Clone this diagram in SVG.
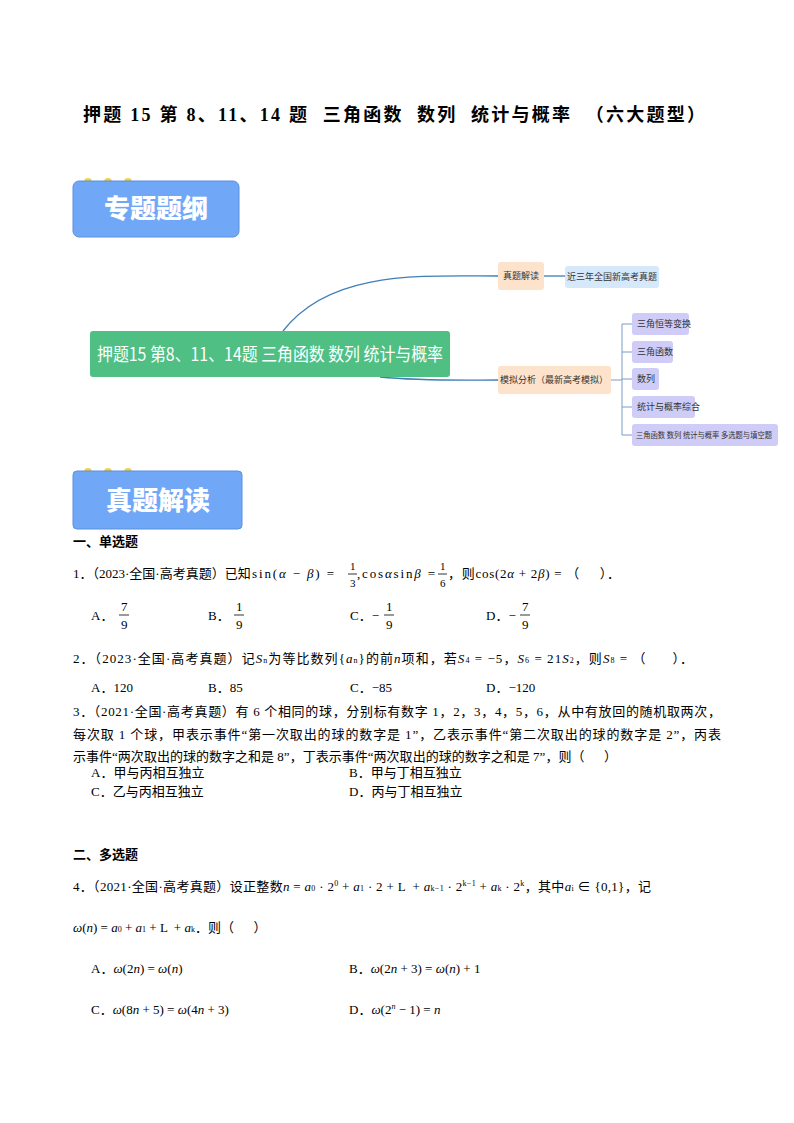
<svg xmlns="http://www.w3.org/2000/svg" width="794" height="1123" viewBox="0 0 794 1123">
<style>
.t{font-family:"Liberation Serif","Noto Sans CJK SC",serif;font-size:13px;fill:#000;white-space:pre}
.b{font-weight:bold}
.m{font-family:"Liberation Serif",serif;font-style:italic;font-size:13px}
.n{font-family:"Noto Sans CJK SC",sans-serif;font-size:9px;fill:#333}
.ban{fill:#70a7f6;stroke:#5a8fe0;stroke-width:1}
.bt{font-family:"Noto Sans CJK SC",sans-serif;font-weight:900;font-size:26px;fill:#fff}
.dot{fill:#f8d23a}
.fl{stroke:#000;stroke-width:0.8}
.ln{fill:none;stroke:#3d7fb8;stroke-width:1.3}
.br{fill:none;stroke:#7a9cc4;stroke-width:1}
.s{font-size:8px}
</style>
<rect width="794" height="1123" fill="#fff"/>
<text x="83" y="121" class="t b" style="font-size:18px" textLength="622" lengthAdjust="spacing">押题 15 第 8、11、14 题  三角函数  数列  统计与概率  （六大题型）</text>

<g id="banner1"><circle class="dot" cx="88" cy="182" r="4"/><circle class="dot" cx="108" cy="182" r="4"/><circle class="dot" cx="128" cy="182" r="4"/>
<rect class="ban" x="73" y="181" width="166" height="56" rx="6"/><text class="bt" x="156" y="218" text-anchor="middle">专题题纲</text></g>

<g id="connectors">
<path class="ln" d="M283 331 C330 270 420 276 498 276"/>
<path class="ln" d="M380 377 C420 381 460 380 498 380"/>
<path class="ln" d="M544 276 H565"/>
<path class="br" d="M611 380 H622 M622 324 V435 M622 324 H632 M622 352 H632 M622 379 H632 M622 407 H632 M622 435 H632"/>
</g>
<g id="central"><rect x="90" y="331" width="360" height="46" rx="3" fill="#4fbf84"/><text x="97" y="361" textLength="346" lengthAdjust="spacingAndGlyphs" style="font-family:'Noto Sans CJK SC',sans-serif;font-size:18px;fill:#fff">押题15 第8、11、14题 三角函数 数列 统计与概率</text></g>
<g id="n1"><rect x="498" y="262" width="46" height="28" rx="3" fill="#fde3cc"/><text class="n" x="521" y="279" text-anchor="middle">真题解读</text></g>
<g id="n2"><rect x="565" y="266" width="94" height="22" rx="3" fill="#d6e9fb"/><text class="n" x="612" y="280" text-anchor="middle">近三年全国新高考真题</text></g>
<g id="n3"><rect x="498" y="366" width="113" height="28" rx="3" fill="#fde3cc"/><text class="n" x="554" y="383" text-anchor="middle">模拟分析（最新高考模拟）</text></g>
<g id="n4"><rect x="632" y="313" width="57" height="22" rx="3" fill="#cfcdf7"/><text class="n" x="637" y="327">三角恒等变换</text></g>
<g id="n5"><rect x="632" y="341" width="41" height="22" rx="3" fill="#cfcdf7"/><text class="n" x="637" y="355">三角函数</text></g>
<g id="n6"><rect x="632" y="368" width="27" height="22" rx="3" fill="#cfcdf7"/><text class="n" x="637" y="382">数列</text></g>
<g id="n7"><rect x="632" y="396" width="63" height="22" rx="3" fill="#cfcdf7"/><text class="n" x="637" y="410">统计与概率综合</text></g>
<g id="n8"><rect x="632" y="424" width="146" height="22" rx="3" fill="#cfcdf7"/><text class="n" x="636" y="438" style="font-size:8px" textLength="136" lengthAdjust="spacingAndGlyphs">三角函数 数列 统计与概率 多选题与填空题</text></g>

<g id="banner2"><circle class="dot" cx="88" cy="472" r="4"/><circle class="dot" cx="108" cy="472" r="4"/><circle class="dot" cx="128" cy="472" r="4"/>
<rect class="ban" x="73" y="471" width="169" height="58" rx="4"/><text class="bt" x="158" y="510" text-anchor="middle">真题解读</text></g>

<text class="t b" x="73" y="546">一、单选题</text>
<text class="t" x="73" y="578">1．（2023·全国·高考真题）已知</text>
<text class="t" x="252" y="578" textLength="82" lengthAdjust="spacing">sin(<tspan class="m">α</tspan> − <tspan class="m">β</tspan>) =</text>
<text class="t" x="350" y="570" style="font-size:11px">1</text><line class="fl" x1="348" y1="574" x2="357" y2="574"/><text class="t" x="350" y="587" style="font-size:11px">3</text>
<text class="t" x="357" y="578" textLength="78" lengthAdjust="spacing">,cos<tspan class="m">α</tspan>sin<tspan class="m">β</tspan> =</text>
<text class="t" x="440" y="570" style="font-size:11px">1</text><line class="fl" x1="438" y1="574" x2="447" y2="574"/><text class="t" x="440" y="587" style="font-size:11px">6</text>
<text class="t" x="448" y="578" textLength="172" lengthAdjust="spacing">，则cos(2<tspan class="m">α</tspan> + 2<tspan class="m">β</tspan>) = （     ）．</text>
<text class="t" x="91" y="620">A．</text><text class="t" x="121" y="611">7</text><line class="fl" x1="119" y1="615" x2="129" y2="615"/><text class="t" x="121" y="629">9</text>
<text class="t" x="208" y="620">B．</text><text class="t" x="236" y="611">1</text><line class="fl" x1="234" y1="615" x2="244" y2="615"/><text class="t" x="236" y="629">9</text>
<text class="t" x="350" y="620">C．−</text><text class="t" x="386" y="611">1</text><line class="fl" x1="384" y1="615" x2="394" y2="615"/><text class="t" x="386" y="629">9</text>
<text class="t" x="486" y="620">D．−</text><text class="t" x="522" y="611">7</text><line class="fl" x1="520" y1="615" x2="530" y2="615"/><text class="t" x="522" y="629">9</text>
<text class="t" x="73" y="663" textLength="620" lengthAdjust="spacing">2．（2023·全国·高考真题）记<tspan class="m">S</tspan><tspan class="s">n</tspan>为等比数列{<tspan class="m">a</tspan><tspan class="s">n</tspan>}的前<tspan class="m">n</tspan>项和，若<tspan class="m">S</tspan><tspan class="s">4</tspan> = −5，<tspan class="m">S</tspan><tspan class="s">6</tspan> = 21<tspan class="m">S</tspan><tspan class="s">2</tspan>，则<tspan class="m">S</tspan><tspan class="s">8</tspan> = （      ）．</text>
<text class="t" x="91" y="692">A．120</text><text class="t" x="208" y="692">B．85</text><text class="t" x="350" y="692">C．−85</text><text class="t" x="486" y="692">D．−120</text>
<text class="t" x="73" y="716" textLength="648" lengthAdjust="spacing">3．（2021·全国·高考真题）有 6 个相同的球，分别标有数字 1，2，3，4，5，6，从中有放回的随机取两次，</text>
<text class="t" x="73" y="739" textLength="648" lengthAdjust="spacing">每次取 1 个球，甲表示事件“第一次取出的球的数字是 1”，乙表示事件“第二次取出的球的数字是 2”，丙表</text>
<text class="t" x="73" y="761" textLength="544" lengthAdjust="spacing">示事件“两次取出的球的数字之和是 8”，丁表示事件“两次取出的球的数字之和是 7”，则（      ）</text>
<text class="t" x="91" y="777">A．甲与丙相互独立</text><text class="t" x="349" y="777">B．甲与丁相互独立</text>
<text class="t" x="91" y="796">C．乙与丙相互独立</text><text class="t" x="349" y="796">D．丙与丁相互独立</text>
<text class="t b" x="73" y="859">二、多选题</text>
<text class="t" x="73" y="891" textLength="578" lengthAdjust="spacing">4．（2021·全国·高考真题）设正整数<tspan class="m">n</tspan> = <tspan class="m">a</tspan><tspan class="s">0</tspan> · 2<tspan dy="-5" class="s">0</tspan><tspan dy="5"> + </tspan><tspan class="m">a</tspan><tspan class="s">1</tspan> · 2 + L  + <tspan class="m">a</tspan><tspan class="s">k−1</tspan> · 2<tspan dy="-5" class="s">k−1</tspan><tspan dy="5"> + </tspan><tspan class="m">a</tspan><tspan class="s">k</tspan> · 2<tspan dy="-5" class="s">k</tspan><tspan dy="5">，其中</tspan><tspan class="m">a</tspan><tspan class="s">i</tspan> ∈ {0,1}，记</text>
<text class="t" x="73" y="932"><tspan class="m">ω</tspan>(<tspan class="m">n</tspan>) = <tspan class="m">a</tspan><tspan class="s">0</tspan> + <tspan class="m">a</tspan><tspan class="s">1</tspan> + L  + <tspan class="m">a</tspan><tspan class="s">k</tspan>．则（      ）</text>
<text class="t" x="91" y="973">A．<tspan class="m">ω</tspan>(2<tspan class="m">n</tspan>) = <tspan class="m">ω</tspan>(<tspan class="m">n</tspan>)</text>
<text class="t" x="349" y="973">B．<tspan class="m">ω</tspan>(2<tspan class="m">n</tspan> + 3) = <tspan class="m">ω</tspan>(<tspan class="m">n</tspan>) + 1</text>
<text class="t" x="91" y="1014">C．<tspan class="m">ω</tspan>(8<tspan class="m">n</tspan> + 5) = <tspan class="m">ω</tspan>(4<tspan class="m">n</tspan> + 3)</text>
<text class="t" x="349" y="1014">D．<tspan class="m">ω</tspan>(2<tspan dy="-5" class="s m">n</tspan><tspan dy="5"> − 1) = </tspan><tspan class="m">n</tspan></text>
</svg>
